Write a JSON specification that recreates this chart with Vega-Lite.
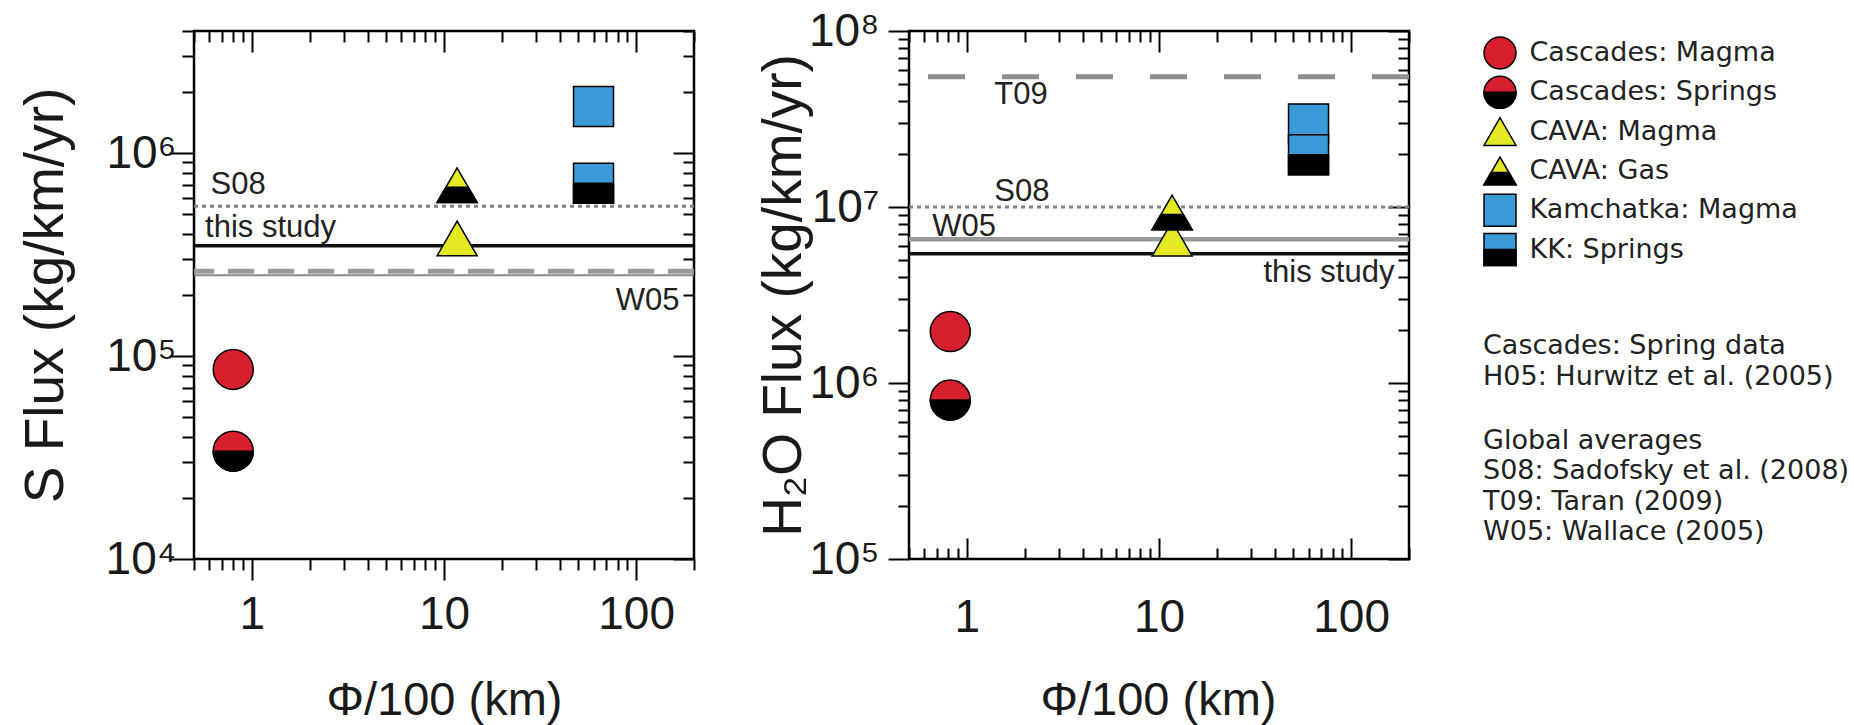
{
  "$schema": "https://vega.github.io/schema/vega-lite/v6.json",
  "background": "white",
  "padding": {"left": 16, "top": 6, "right": 0, "bottom": 0},
  "bounds": "flush",
  "spacing": 215,
  "config": {
    "font": "Liberation Sans",
    "view": {"stroke": "black", "strokeWidth": 2.5},
    "axis": {"domain": false, "grid": false, "tickColor": "black", "tickWidth": 2, "labelColor": "#1a1a1a", "titleColor": "#1a1a1a", "labelFont": "Liberation Sans", "titleFont": "Liberation Sans", "labelFontSize": 46, "titleFontSize": 56, "titleFontWeight": "normal", "labelOverlap": false, "labelBound": false, "labelFlush": false}
  },
  "datasets": {
    "s_pts": [
      {"group": "Cascades: Magma", "phi": 0.8, "flux": 86000},
      {"group": "Cascades: Springs", "phi": 0.8, "flux": 34000},
      {"group": "CAVA: Magma", "phi": 11.7, "flux": 380000},
      {"group": "CAVA: Gas", "phi": 11.7, "flux": 695000},
      {"group": "Kamchatka: Magma", "phi": 60, "flux": 1700000},
      {"group": "KK: Springs", "phi": 60, "flux": 710000}
    ],
    "h_pts": [
      {"group": "Cascades: Magma", "phi": 0.82, "flux": 1960000},
      {"group": "Cascades: Springs", "phi": 0.82, "flux": 800000},
      {"group": "CAVA: Magma", "phi": 11.7, "flux": 6600000},
      {"group": "CAVA: Gas", "phi": 11.7, "flux": 9300000},
      {"group": "Kamchatka: Magma", "phi": 60, "flux": 29600000},
      {"group": "KK: Springs", "phi": 60, "flux": 19800000}
    ],
    "s_lines": [
      {"ref": "S08", "flux": 547000},
      {"ref": "this study", "flux": 350000},
      {"ref": "T09", "flux": 262000},
      {"ref": "W05", "flux": 250000}
    ],
    "h_lines": [
      {"ref": "T09", "flux": 55000000},
      {"ref": "S08", "flux": 10000000},
      {"ref": "W05", "flux": 6550000},
      {"ref": "this study", "flux": 5430000}
    ],
    "s_labels": [
      {"label": "S08", "phi": 0.61, "flux": 627000},
      {"label": "this study", "phi": 0.571, "flux": 386000},
      {"label": "W05", "phi": 168, "flux": 169000}
    ],
    "h_labels": [
      {"label": "T09", "phi": 1.39, "flux": 38600000},
      {"label": "S08", "phi": 1.39, "flux": 10800000},
      {"label": "W05", "phi": 0.66, "flux": 6820000},
      {"label": "this study", "phi": 168, "flux": 3740000}
    ]
  },
  "hconcat": [
    {
      "width": 500,
      "height": 528,
      "resolve": {"axis": {"x": "independent", "y": "independent"}, "scale": {"shape": "independent"}},
      "layer": [
        {
          "data": {"name": "s_lines"},
          "transform": [{"filter": "datum.ref == 'T09'"}],
          "mark": {"type": "rule", "color": "#9a9a9a", "strokeWidth": 5, "strokeDash": [26, 14]},
          "encoding": {"y": {"field": "flux", "type": "quantitative", "scale": {"type": "log", "domain": [10000, 4000000], "nice": false}, "axis": null}}
        },
        {
          "data": {"name": "s_lines"},
          "transform": [{"filter": "datum.ref == 'W05'"}],
          "mark": {"type": "rule", "color": "#8c8c8c", "strokeWidth": 2},
          "encoding": {"y": {"field": "flux", "type": "quantitative", "scale": {"type": "log", "domain": [10000, 4000000], "nice": false}, "axis": null}}
        },
        {
          "data": {"name": "s_lines"},
          "transform": [{"filter": "datum.ref == 'S08'"}],
          "mark": {"type": "rule", "color": "#808080", "strokeWidth": 3, "strokeDash": [4, 4]},
          "encoding": {"y": {"field": "flux", "type": "quantitative", "scale": {"type": "log", "domain": [10000, 4000000], "nice": false}, "axis": null}}
        },
        {
          "data": {"name": "s_lines"},
          "transform": [{"filter": "datum.ref == 'this study'"}],
          "mark": {"type": "rule", "color": "#111111", "strokeWidth": 3.5},
          "encoding": {"y": {"field": "flux", "type": "quantitative", "scale": {"type": "log", "domain": [10000, 4000000], "nice": false}, "axis": null}}
        },
        {
          "data": {"name": "s_labels"},
          "transform": [{"filter": "datum.label != 'W05'"}],
          "mark": {"type": "text", "align": "left", "baseline": "alphabetic", "fontSize": 31, "font": "Liberation Sans", "color": "#222222"},
          "encoding": {
            "text": {"field": "label"},
            "x": {"field": "phi", "type": "quantitative", "scale": {"type": "log", "domain": [0.5, 200], "nice": false},
              "axis": {"orient": "top", "values": [0.5,0.6,0.7,0.8,0.9,1,2,3,4,5,6,7,8,9,10,20,30,40,50,60,70,80,90,100,200], "labels": false, "title": null,
                "tickSize": {"condition": {"test": "datum.value == 1 || datum.value == 10 || datum.value == 100", "value": -21}, "value": -11}}},
            "y": {"field": "flux", "type": "quantitative", "scale": {"type": "log", "domain": [10000, 4000000], "nice": false},
              "axis": {"orient": "right", "values": [10000,20000,30000,40000,50000,60000,70000,80000,90000,100000,200000,300000,400000,500000,600000,700000,800000,900000,1000000,2000000,3000000,4000000], "labels": false, "title": null,
                "tickSize": {"condition": {"test": "datum.value == 10000 || datum.value == 100000 || datum.value == 1000000", "value": -21}, "value": -11}}}
          }
        },
        {
          "data": {"name": "s_labels"},
          "transform": [{"filter": "datum.label == 'W05'"}],
          "mark": {"type": "text", "align": "right", "baseline": "alphabetic", "fontSize": 31, "font": "Liberation Sans", "color": "#222222"},
          "encoding": {
            "text": {"field": "label"},
            "x": {"field": "phi", "type": "quantitative", "scale": {"type": "log", "domain": [0.5, 200], "nice": false}, "axis": null},
            "y": {"field": "flux", "type": "quantitative", "scale": {"type": "log", "domain": [10000, 4000000], "nice": false}, "axis": null}
          }
        },
        {
          "data": {"name": "s_pts"},
          "mark": {"type": "point", "filled": true, "opacity": 1, "stroke": "black", "strokeWidth": 1.5},
          "encoding": {
            "x": {"field": "phi", "type": "quantitative", "scale": {"type": "log", "domain": [0.5, 200], "nice": false},
              "axis": {"orient": "bottom", "values": [0.5,0.6,0.7,0.8,0.9,1,2,3,4,5,6,7,8,9,10,20,30,40,50,60,70,80,90,100,200],
                "labelExpr": "datum.value == 1 ? '1' : datum.value == 10 ? '10' : datum.value == 100 ? '100' : ''",
                "tickSize": {"condition": {"test": "datum.value == 1 || datum.value == 10 || datum.value == 100", "value": 21}, "value": 11},
                "labelPadding": 12, "title": "Φ/100 (km)", "titleFontSize": 47, "titleX": 250, "titleY": 118, "titleBaseline": "top"}},
            "y": {"field": "flux", "type": "quantitative", "scale": {"type": "log", "domain": [10000, 4000000], "nice": false},
              "axis": {"orient": "left", "values": [10000,20000,30000,40000,50000,60000,70000,80000,90000,100000,200000,300000,400000,500000,600000,700000,800000,900000,1000000,2000000,3000000,4000000],
                "labelExpr": "datum.value == 10000 ? '10⁴' : datum.value == 100000 ? '10⁵' : datum.value == 1000000 ? '10⁶' : ''",
                "tickSize": {"condition": {"test": "datum.value == 10000 || datum.value == 100000 || datum.value == 1000000", "value": 25}, "value": 12},
                "labelPadding": -7, "title": "S Flux (kg/km/yr)", "titleFontSize": 55, "titleX": -120, "titleY": 264}},
            "color": {"field": "group", "type": "nominal", "legend": null,
              "scale": {"domain": ["Cascades: Magma", "Cascades: Springs", "CAVA: Magma", "CAVA: Gas", "Kamchatka: Magma", "KK: Springs"], "range": ["#d81f2e", "#d81f2e", "#e4e823", "#e4e823", "#3b9bd8", "#3b9bd8"]}},
            "shape": {"field": "group", "type": "nominal", "legend": null,
              "scale": {"domain": ["Cascades: Magma", "Cascades: Springs", "CAVA: Magma", "CAVA: Gas", "Kamchatka: Magma", "KK: Springs"], "range": ["circle", "circle", "M0,-1M0,1M0,-0.866L-1,0.866L1,0.866Z", "M0,-1M0,1M0,-0.866L-1,0.866L1,0.866Z", "square", "square"]}},
            "size": {"field": "group", "type": "nominal", "legend": null,
              "scale": {"domain": ["Cascades: Magma", "Cascades: Springs", "CAVA: Magma", "CAVA: Gas", "Kamchatka: Magma", "KK: Springs"], "range": [1600, 1600, 2500, 2500, 1480, 1480]}}
          }
        },
        {
          "data": {"name": "s_pts"},
          "transform": [{"filter": "datum.group == 'Cascades: Springs' || datum.group == 'CAVA: Gas' || datum.group == 'KK: Springs'"}],
          "mark": {"type": "point", "filled": true, "opacity": 1, "color": "black", "stroke": "black", "strokeWidth": 1.5},
          "encoding": {
            "x": {"field": "phi", "type": "quantitative", "scale": {"type": "log", "domain": [0.5, 200], "nice": false}, "axis": null},
            "y": {"field": "flux", "type": "quantitative", "scale": {"type": "log", "domain": [10000, 4000000], "nice": false}, "axis": null},
            "shape": {"field": "group", "type": "nominal", "legend": null,
              "scale": {"domain": ["Cascades: Magma", "Cascades: Springs", "CAVA: Magma", "CAVA: Gas", "Kamchatka: Magma", "KK: Springs"], "range": ["M-1,-1M1,1", "M-1,-1M1,1M-1,0A1,1,0,0,0,1,0Z", "M-1,-1M1,1", "M-1,-1M1,1M-0.558,0.1L0.558,0.1L1,0.866L-1,0.866Z", "M-1,-1M1,1", "M-1,-1M1,1M-1,0L1,0L1,1L-1,1Z"]}},
            "size": {"field": "group", "type": "nominal", "legend": null,
              "scale": {"domain": ["Cascades: Magma", "Cascades: Springs", "CAVA: Magma", "CAVA: Gas", "Kamchatka: Magma", "KK: Springs"], "range": [1600, 1600, 2500, 2500, 1480, 1480]}}
          }
        }
      ]
    },
    {
      "width": 500,
      "height": 528,
      "resolve": {"axis": {"x": "independent", "y": "independent"}, "scale": {"shape": "independent", "color": "independent"}, "legend": {"shape": "independent", "color": "independent"}},
      "layer": [
        {
          "data": {"name": "h_lines"},
          "transform": [{"filter": "datum.ref == 'T09'"}],
          "mark": {"type": "rule", "color": "#8f8f8f", "strokeWidth": 5, "strokeDash": [37, 37]},
          "encoding": {"y": {"field": "flux", "type": "quantitative", "scale": {"type": "log", "domain": [100000, 100000000], "nice": false}, "axis": null}}
        },
        {
          "data": {"name": "h_lines"},
          "transform": [{"filter": "datum.ref == 'W05'"}],
          "mark": {"type": "rule", "color": "#999999", "strokeWidth": 4.5},
          "encoding": {"y": {"field": "flux", "type": "quantitative", "scale": {"type": "log", "domain": [100000, 100000000], "nice": false}, "axis": null}}
        },
        {
          "data": {"name": "h_lines"},
          "transform": [{"filter": "datum.ref == 'S08'"}],
          "mark": {"type": "rule", "color": "#808080", "strokeWidth": 3, "strokeDash": [4, 4]},
          "encoding": {"y": {"field": "flux", "type": "quantitative", "scale": {"type": "log", "domain": [100000, 100000000], "nice": false}, "axis": null}}
        },
        {
          "data": {"name": "h_lines"},
          "transform": [{"filter": "datum.ref == 'this study'"}],
          "mark": {"type": "rule", "color": "#111111", "strokeWidth": 3.5},
          "encoding": {"y": {"field": "flux", "type": "quantitative", "scale": {"type": "log", "domain": [100000, 100000000], "nice": false}, "axis": null}}
        },
        {
          "data": {"name": "h_labels"},
          "transform": [{"filter": "datum.label != 'this study'"}],
          "mark": {"type": "text", "align": "left", "baseline": "alphabetic", "fontSize": 31, "font": "Liberation Sans", "color": "#222222"},
          "encoding": {
            "text": {"field": "label"},
            "x": {"field": "phi", "type": "quantitative", "scale": {"type": "log", "domain": [0.5, 200], "nice": false},
              "axis": {"orient": "top", "values": [0.5,0.6,0.7,0.8,0.9,1,2,3,4,5,6,7,8,9,10,20,30,40,50,60,70,80,90,100,200], "labels": false, "title": null,
                "tickSize": {"condition": {"test": "datum.value == 1 || datum.value == 10 || datum.value == 100", "value": -21}, "value": -11}}},
            "y": {"field": "flux", "type": "quantitative", "scale": {"type": "log", "domain": [100000, 100000000], "nice": false},
              "axis": {"orient": "right", "values": [100000,200000,300000,400000,500000,600000,700000,800000,900000,1000000,2000000,3000000,4000000,5000000,6000000,7000000,8000000,9000000,10000000,20000000,30000000,40000000,50000000,60000000,70000000,80000000,90000000,100000000], "labels": false, "title": null,
                "tickSize": {"condition": {"test": "datum.value == 100000 || datum.value == 1000000 || datum.value == 10000000 || datum.value == 100000000", "value": -21}, "value": -11}}}
          }
        },
        {
          "data": {"name": "h_labels"},
          "transform": [{"filter": "datum.label == 'this study'"}],
          "mark": {"type": "text", "align": "right", "baseline": "alphabetic", "fontSize": 31, "font": "Liberation Sans", "color": "#222222"},
          "encoding": {
            "text": {"field": "label"},
            "x": {"field": "phi", "type": "quantitative", "scale": {"type": "log", "domain": [0.5, 200], "nice": false}, "axis": null},
            "y": {"field": "flux", "type": "quantitative", "scale": {"type": "log", "domain": [100000, 100000000], "nice": false}, "axis": null}
          }
        },
        {
          "data": {"name": "h_pts"},
          "mark": {"type": "point", "filled": true, "opacity": 1, "stroke": "black", "strokeWidth": 1.5},
          "encoding": {
            "x": {"field": "phi", "type": "quantitative", "scale": {"type": "log", "domain": [0.5, 200], "nice": false},
              "axis": {"orient": "bottom", "values": [0.5,0.6,0.7,0.8,0.9,1,2,3,4,5,6,7,8,9,10,20,30,40,50,60,70,80,90,100,200],
                "labelExpr": "datum.value == 1 ? '1' : datum.value == 10 ? '10' : datum.value == 100 ? '100' : ''",
                "tickSize": {"condition": {"test": "datum.value == 1 || datum.value == 10 || datum.value == 100", "value": -21}, "value": -11},
                "labelPadding": 57, "title": "Φ/100 (km)", "titleFontSize": 47, "titleX": 249, "titleY": 118, "titleBaseline": "top"}},
            "y": {"field": "flux", "type": "quantitative", "scale": {"type": "log", "domain": [100000, 100000000], "nice": false},
              "axis": {"orient": "left", "values": [100000,200000,300000,400000,500000,600000,700000,800000,900000,1000000,2000000,3000000,4000000,5000000,6000000,7000000,8000000,9000000,10000000,20000000,30000000,40000000,50000000,60000000,70000000,80000000,90000000,100000000],
                "labelExpr": "datum.value == 100000 ? '10⁵' : datum.value == 1000000 ? '10⁶' : datum.value == 10000000 ? '10⁷' : datum.value == 100000000 ? '10⁸' : ''",
                "tickSize": {"condition": {"test": "datum.value == 100000 || datum.value == 1000000 || datum.value == 10000000 || datum.value == 100000000", "value": 21}, "value": 11},
                "labelPadding": 9, "title": "H₂O Flux (kg/km/yr)", "titleFontSize": 55, "titleX": -97, "titleY": 264}},
            "color": {"field": "group", "type": "nominal",
              "scale": {"domain": ["Cascades: Magma", "Cascades: Springs", "CAVA: Magma", "CAVA: Gas", "Kamchatka: Magma", "KK: Springs"], "range": ["#d81f2e", "#d81f2e", "#e4e823", "#e4e823", "#3b9bd8", "#3b9bd8"]},
              "legend": {"orient": "none", "legendX": 574, "legendY": 5, "padding": 0,
                "title": ["Cascades: Spring data", "H05: Hurwitz et al. (2005)"],
                "titleOrient": "bottom", "titleAnchor": "start", "titleAlign": "left", "titleBaseline": "top", "titleFont": "DejaVu Sans", "titleFontSize": 27, "titleFontWeight": "normal", "titleColor": "#222222", "titleLineHeight": 30.5, "titlePadding": 64, "titleLimit": 600,
                "labelFont": "DejaVu Sans", "labelFontSize": 27, "labelColor": "#222222", "labelLimit": 600, "labelOffset": 12.5,
                "symbolSize": 1024, "rowPadding": 1.3,
                "encode": {"symbols": {"update": {"stroke": {"value": "black"}, "strokeWidth": {"value": 1.5}, "opacity": {"value": 1}}}}}},
            "shape": {"field": "group", "type": "nominal",
              "scale": {"domain": ["Cascades: Magma", "Cascades: Springs", "CAVA: Magma", "CAVA: Gas", "Kamchatka: Magma", "KK: Springs"], "range": ["circle", "circle", "M0,-1M0,1M0,-0.866L-1,0.866L1,0.866Z", "M0,-1M0,1M0,-0.866L-1,0.866L1,0.866Z", "square", "square"]},
              "legend": {"orient": "none", "legendX": 574, "legendY": 5, "padding": 0,
                "title": ["Cascades: Spring data", "H05: Hurwitz et al. (2005)"],
                "titleOrient": "bottom", "titleAnchor": "start", "titleAlign": "left", "titleBaseline": "top", "titleFont": "DejaVu Sans", "titleFontSize": 27, "titleFontWeight": "normal", "titleColor": "#222222", "titleLineHeight": 30.5, "titlePadding": 64, "titleLimit": 600,
                "labelFont": "DejaVu Sans", "labelFontSize": 27, "labelColor": "#222222", "labelLimit": 600, "labelOffset": 12.5,
                "symbolSize": 1024, "rowPadding": 1.3,
                "encode": {"symbols": {"update": {"stroke": {"value": "black"}, "strokeWidth": {"value": 1.5}, "opacity": {"value": 1}}}}}},
            "size": {"field": "group", "type": "nominal", "legend": null,
              "scale": {"domain": ["Cascades: Magma", "Cascades: Springs", "CAVA: Magma", "CAVA: Gas", "Kamchatka: Magma", "KK: Springs"], "range": [1600, 1600, 2500, 2500, 1480, 1480]}}
          }
        },
        {
          "data": {"name": "h_pts"},
          "transform": [{"filter": "datum.group == 'Cascades: Springs' || datum.group == 'CAVA: Gas' || datum.group == 'KK: Springs'"}],
          "mark": {"type": "point", "filled": true, "opacity": 1, "color": "black", "stroke": "black", "strokeWidth": 1.5},
          "encoding": {
            "x": {"field": "phi", "type": "quantitative", "scale": {"type": "log", "domain": [0.5, 200], "nice": false}, "axis": null},
            "y": {"field": "flux", "type": "quantitative", "scale": {"type": "log", "domain": [100000, 100000000], "nice": false}, "axis": null},
            "shape": {"field": "group", "type": "nominal",
              "scale": {"domain": ["Cascades: Magma", "Cascades: Springs", "CAVA: Magma", "CAVA: Gas", "Kamchatka: Magma", "KK: Springs"], "range": ["M-1,-1M1,1", "M-1,-1M1,1M-1,0A1,1,0,0,0,1,0Z", "M-1,-1M1,1", "M-1,-1M1,1M-0.558,0.1L0.558,0.1L1,0.866L-1,0.866Z", "M-1,-1M1,1", "M-1,-1M1,1M-1,0L1,0L1,1L-1,1Z"]},
              "legend": {"orient": "none", "legendX": 574, "legendY": 5, "padding": 0,
                "title": ["Global averages", "S08: Sadofsky et al. (2008)", "T09: Taran (2009)", "W05: Wallace (2005)"],
                "titleOrient": "bottom", "titleAnchor": "start", "titleAlign": "left", "titleBaseline": "top", "titleFont": "DejaVu Sans", "titleFontSize": 27, "titleFontWeight": "normal", "titleColor": "#222222", "titleLineHeight": 30.5, "titlePadding": 158.5, "titleLimit": 600,
                "labelFont": "DejaVu Sans", "labelFontSize": 27, "labelColor": "#222222", "labelExpr": "' '", "labelLimit": 600, "labelOffset": 12.5,
                "symbolSize": 1024, "rowPadding": 1.3,
                "encode": {"symbols": {"update": {"fill": {"value": "black"}, "stroke": {"value": "black"}, "strokeWidth": {"value": 1.5}, "opacity": {"value": 1}}}}}},
            "size": {"field": "group", "type": "nominal", "legend": null,
              "scale": {"domain": ["Cascades: Magma", "Cascades: Springs", "CAVA: Magma", "CAVA: Gas", "Kamchatka: Magma", "KK: Springs"], "range": [1600, 1600, 2500, 2500, 1480, 1480]}}
          }
        }
      ]
    }
  ]
}
